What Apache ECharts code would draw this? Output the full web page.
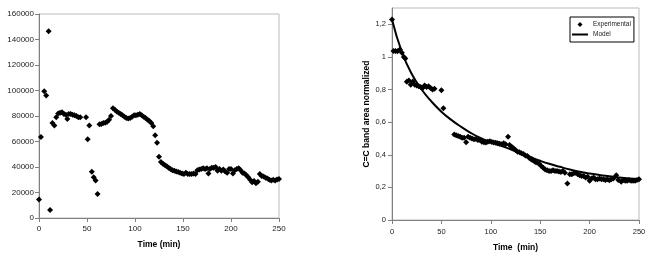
<!DOCTYPE html>
<html>
<head>
<meta charset="utf-8">
<script src="https://cdn.jsdelivr.net/npm/echarts@6/dist/echarts.min.js"></script>
<style>
html, body { margin: 0; padding: 0; background: #fff; }
#chart { width: 649px; height: 257px; }
</style>
</head>
<body>
<div id="chart"></div>
<script>
// left panel: raw band area vs time
const leftTime = [0, 2, 5.5, 7.5, 10, 11.5, 14, 16, 18, 20, 22, 24, 26, 28, 29.5, 31, 33, 35, 37, 39, 41, 43,
  49, 50.7, 52.4, 55, 57, 59, 61, 63, 65, 67, 69, 71, 73, 75, 77, 79, 81, 83, 85, 87, 89, 91, 93, 95, 97, 99,
  101, 103, 105, 107, 109, 111, 113, 115, 117, 119, 121, 123, 125, 127, 129, 131, 133, 135, 137, 139, 141,
  143, 145, 147, 149, 151, 153, 155, 157, 159, 161, 163, 165, 167, 169, 171, 173, 175, 176.5, 178, 180, 182,
  184, 186, 188, 190, 192, 194, 196, 198, 200, 202, 204, 206, 208, 210, 212, 214, 216, 218, 220, 222, 224,
  226, 228, 230, 232, 234, 236, 238, 240, 242, 244, 246, 248, 250];
const leftArea = [14500, 63500, 99500, 96000, 146500, 6300, 74500, 72500, 79000, 82000, 82500, 83000, 81500,
  81000, 77600, 81500, 81500, 81000, 80500, 80000, 79000, 79000,
  79000, 61700, 72500, 36300, 32000, 29500, 18800, 73500, 73800, 74500, 74800, 75500, 77000, 80000, 86000,
  85000, 83500, 82500, 81500, 80500, 79500, 78500, 78000, 78500, 79500, 80500,
  80500, 81000, 81500, 80500, 79500, 78500, 77000, 76000, 74500, 72000, 65000, 59000, 48000, 44000, 42500,
  41500, 40500, 39500, 38500, 37500, 37000,
  36500, 36000, 35500, 35000, 34500, 35500, 34500, 34500, 34500, 35000, 34500, 37500, 38000, 38500, 39000,
  38500, 39000, 35000, 38500, 39500, 39500,
  40000, 37000, 38500, 37000, 38000, 36500, 35500, 38500, 38500, 35000, 37500, 38500, 39000, 37500, 35500,
  35000, 33500, 32000, 30000, 28000, 29000,
  27200, 28500, 34500, 33000, 32500, 31500, 31000, 30000, 29500, 30000, 29500, 30200, 30600];

// right panel: normalized C=C band area, experimental and model
const expTime = [0, 1.5, 3.5, 5.5, 8, 10, 12, 13.5, 15, 17, 19, 21, 23, 25, 27, 29, 31, 33, 35, 37, 39, 41, 43,
  50, 52, 63, 65, 67, 69, 71, 73, 75, 77, 79, 81, 83, 85, 87, 89, 91, 93, 95, 97, 99,
  101, 103, 105, 107, 109, 111, 113, 115, 117.5, 119, 121, 123, 125, 127, 129, 131, 133, 135, 137, 139, 141,
  143, 145, 147, 149, 151, 153, 155, 157, 159, 161, 163, 165, 167, 169, 171, 173, 175, 177.5, 180, 182, 184,
  186, 188, 190, 192, 194, 196, 198, 200, 202, 204, 206, 208, 210, 212, 214, 216, 218, 220, 222, 224, 227,
  229, 232, 234, 236, 238, 240, 242, 244, 246, 248, 250];
const expRatio = [1.23, 1.037, 1.037, 1.035, 1.045, 1.025, 1.0, 0.99, 0.848, 0.855, 0.83, 0.85, 0.83, 0.825,
  0.82, 0.815, 0.81, 0.825, 0.815, 0.82, 0.81, 0.8, 0.805,
  0.795, 0.686, 0.524, 0.52, 0.515, 0.51, 0.505, 0.505, 0.477, 0.51, 0.505, 0.5, 0.495, 0.497, 0.49, 0.49,
  0.48, 0.477, 0.475, 0.48, 0.483,
  0.478, 0.475, 0.473, 0.47, 0.467, 0.465, 0.47, 0.465, 0.51, 0.46, 0.449, 0.44, 0.43, 0.418, 0.415, 0.41,
  0.405, 0.395, 0.392, 0.38, 0.371,
  0.365, 0.355, 0.351, 0.345, 0.331, 0.32, 0.31, 0.305, 0.3, 0.3, 0.305, 0.3, 0.3, 0.298, 0.295, 0.3, 0.29,
  0.224, 0.28, 0.28, 0.286,
  0.29, 0.28, 0.275, 0.27, 0.27, 0.26, 0.265, 0.24, 0.255, 0.26, 0.25, 0.25, 0.255, 0.25, 0.25, 0.245, 0.25,
  0.244, 0.25, 0.255, 0.274,
  0.245, 0.235, 0.245, 0.24, 0.24, 0.245, 0.24, 0.24, 0.24, 0.245, 0.25];
const modelTime = [0, 10, 20, 30, 40, 50, 60, 70, 80, 90, 100, 110, 120, 130, 140, 150, 160, 170, 180, 190,
  200, 210, 220, 230, 240, 250];
const modelRatio = [1.23, 1.03, 0.895, 0.8, 0.726, 0.664, 0.614, 0.571, 0.533, 0.502, 0.478, 0.456, 0.434,
  0.41, 0.386, 0.363, 0.343, 0.326, 0.31, 0.296, 0.285, 0.276, 0.268, 0.26, 0.254, 0.25];
const ratioTicks = [0, 0.2, 0.4, 0.6, 0.8, 1, 1.2];

const FONT = 'Liberation Sans, Arial, sans-serif';
const pairs = (xs, ys) => xs.map((x, i) => [x, ys[i]]);

function valueAxis(extra) {
  return Object.assign({
    type: 'value',
    axisLine: { show: true, lineStyle: { color: '#808080', width: 1 } },
    axisTick: { show: true, length: 4, lineStyle: { color: '#808080' } },
    splitLine: { show: false },
    nameTextStyle: { fontFamily: FONT, fontWeight: 'bold', fontSize: 8.5, color: '#000' }
  }, extra);
}
const lbl = (size, margin) => ({ fontFamily: FONT, fontSize: size, color: '#222', margin: margin });

const chart = echarts.init(document.getElementById('chart'));
chart.setOption({
  animation: false,
  backgroundColor: '#fff',
  grid: [
    { left: 39, top: 14, width: 240, height: 204, show: true, borderColor: '#bbb', borderWidth: 1 },
    { left: 392, top: 8, width: 247, height: 213, show: true, borderColor: '#bbb', borderWidth: 1 }
  ],
  xAxis: [
    valueAxis({ gridIndex: 0, min: 0, max: 250, interval: 50, name: 'Time (min)',
      nameLocation: 'middle', nameGap: 22, axisLabel: lbl(8, 7) }),
    valueAxis({ gridIndex: 1, min: 0, max: 250, interval: 50, name: 'Time  (min)',
      nameLocation: 'middle', nameGap: 23, axisLabel: lbl(7.5, 8) })
  ],
  yAxis: [
    valueAxis({ gridIndex: 0, min: 0, max: 160000, interval: 20000,
      axisLabel: Object.assign(lbl(8, 5), { formatter: v => String(v) }) }),
    valueAxis({ gridIndex: 1, min: 0, max: 1.3, interval: 0.2,
      name: 'C=C band area normalized', nameLocation: 'middle', nameGap: 21,
      axisTick: { show: true, length: 4, lineStyle: { color: '#808080' }, customValues: ratioTicks },
      axisLabel: Object.assign(lbl(7.5, 6), {
        customValues: ratioTicks,
        formatter: v => (v > 1.25 ? '' : String(+v.toFixed(1)).replace('.', ','))
      })
    })
  ],
  legend: {
    left: 570, top: 17,
    orient: 'vertical',
    padding: [4, 3, 4, 2],
    itemWidth: 16, itemHeight: 5, itemGap: 3,
    borderColor: '#000', borderWidth: 1,
    backgroundColor: '#fff',
    textStyle: { fontFamily: FONT, fontSize: 6.5, color: '#222' },
    data: [
      { name: 'Experimental', icon: 'path://M0,-1L1,0L0,1L-1,0Z' },
      { name: 'Model', icon: 'path://M0,0H16V2H0Z' }
    ]
  },
  series: [
    {
      name: 'Area', type: 'scatter', xAxisIndex: 0, yAxisIndex: 0,
      symbol: 'diamond', symbolSize: 6,
      itemStyle: { color: '#000', opacity: 1 },
      data: pairs(leftTime, leftArea)
    },
    {
      name: 'Experimental', type: 'scatter', xAxisIndex: 1, yAxisIndex: 1,
      symbol: 'diamond', symbolSize: 6,
      itemStyle: { color: '#000', opacity: 1 },
      data: pairs(expTime, expRatio)
    },
    {
      name: 'Model', type: 'line', xAxisIndex: 1, yAxisIndex: 1,
      symbol: 'none', smooth: true,
      lineStyle: { color: '#000', width: 2 },
      itemStyle: { color: '#000' },
      data: pairs(modelTime, modelRatio)
    }
  ]
});
</script>
</body>
</html>
